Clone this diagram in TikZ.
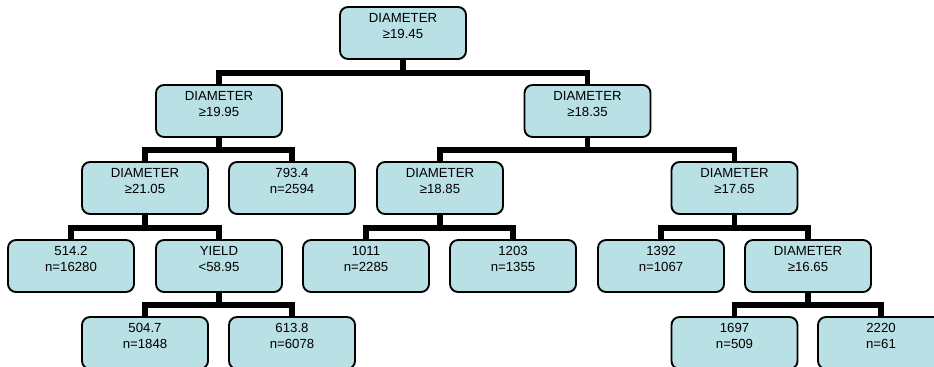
\documentclass[tikz,border=0pt]{standalone}
\usepackage{fontspec}
\setmainfont{Liberation Sans}
\definecolor{celeste}{RGB}{185,224,228}
\newcommand{\cella}[2]{\parbox[c][39pt][t]{94pt}{\centering\rule{0pt}{11.6pt}#1\\#2}}
\tikzset{
  nodo/.style={draw, line width=1.4pt, fill=celeste, rounded corners=6pt, inner sep=0pt,
    minimum width=94.5pt, minimum height=39pt, font=\fontsize{9.9}{12}\selectfont},
  ramo/.style={line width=4.4pt, line join=miter}
}
\begin{document}
\begin{tikzpicture}[x=0.75pt, y=-0.75pt]
        \useasboundingbox (0,0) rectangle (934,367);
        % Livello 0 e 1
        \node [nodo] (root)  at (403,33)   {\cella{DIAMETER}{≥19.45}};
        \node [nodo] (d1995) at (219,111)  {\cella{DIAMETER}{≥19.95}};
        \node [nodo] (d1835) at (587.5,111) {\cella{DIAMETER}{≥18.35}};
        % Livello 2
        \node [nodo] (d2105) at (145,188)  {\cella{DIAMETER}{≥21.05}};
        \node [nodo] (f7934) at (292,188)  {\cella{793.4}{n=2594}};
        \node [nodo] (d1885) at (440,188)  {\cella{DIAMETER}{≥18.85}};
        \node [nodo] (d1765) at (734.5,188) {\cella{DIAMETER}{≥17.65}};
        % Livello 3
        \node [nodo] (f5142) at (71,266)   {\cella{514.2}{n=16280}};
        \node [nodo] (yield) at (219,266)  {\cella{YIELD}{<58.95}};
        \node [nodo] (f1011) at (366,266)  {\cella{1011}{n=2285}};
        \node [nodo] (f1203) at (513,266)  {\cella{1203}{n=1355}};
        \node [nodo] (f1392) at (661,266)  {\cella{1392}{n=1067}};
        \node [nodo] (d1665) at (808,266)  {\cella{DIAMETER}{≥16.65}};
        % Livello 4
        \node [nodo] (f5047) at (145,343)  {\cella{504.7}{n=1848}};
        \node [nodo] (f6138) at (292,343)  {\cella{613.8}{n=6078}};
        \node [nodo] (f1697) at (734.5,343) {\cella{1697}{n=509}};
        \node [nodo] (f2220) at (881,343)  {\cella{2220}{n=61}};
        % Rami
        \draw [ramo] (root.south) -- ++(0,13) -| (d1995.north);
        \draw [ramo] (root.south) -- ++(0,13) -| (d1835.north);
        \draw [ramo] (d1995.south) -- ++(0,12.5) -| (d2105.north);
        \draw [ramo] (d1995.south) -- ++(0,12.5) -| (f7934.north);
        \draw [ramo] (d1835.south) -- ++(0,12.5) -| (d1885.north);
        \draw [ramo] (d1835.south) -- ++(0,12.5) -| (d1765.north);
        \draw [ramo] (d2105.south) -- ++(0,13) -| (f5142.north);
        \draw [ramo] (d2105.south) -- ++(0,13) -| (yield.north);
        \draw [ramo] (d1885.south) -- ++(0,13) -| (f1011.north);
        \draw [ramo] (d1885.south) -- ++(0,13) -| (f1203.north);
        \draw [ramo] (d1765.south) -- ++(0,13) -| (f1392.north);
        \draw [ramo] (d1765.south) -- ++(0,13) -| (d1665.north);
        \draw [ramo] (yield.south) -- ++(0,12) -| (f5047.north);
        \draw [ramo] (yield.south) -- ++(0,12) -| (f6138.north);
        \draw [ramo] (d1665.south) -- ++(0,12) -| (f1697.north);
        \draw [ramo] (d1665.south) -- ++(0,12) -| (f2220.north);
    \end{tikzpicture}
\end{document}
